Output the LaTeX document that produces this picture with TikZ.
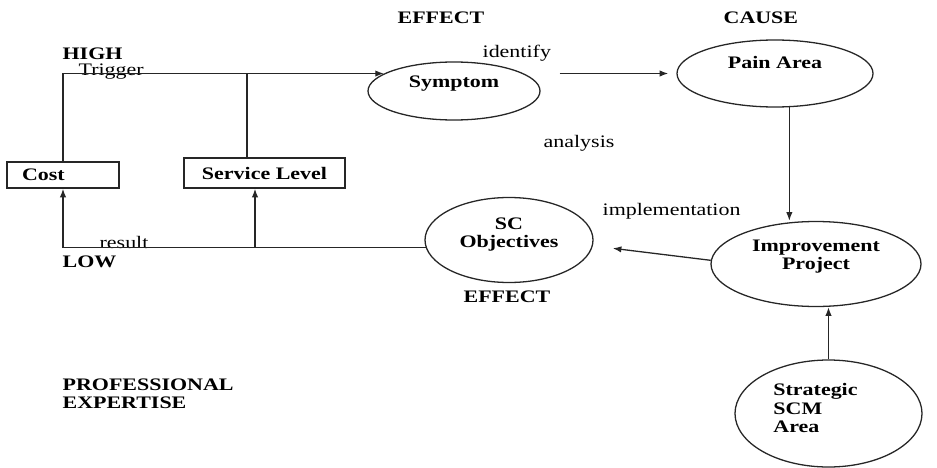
\documentclass[tikz,border=0pt]{standalone}
\usepackage{fontspec}
\setmainfont[FakeStretch=1.25]{Liberation Serif}
\usepackage{tikz}
\usetikzlibrary{arrows.meta,shapes.geometric}

\begin{document}
\begin{tikzpicture}[x=0.3mm, y=-0.3mm, line width=1.1pt, draw=black!85,
    every node/.style={font=\fontsize{15}{15.4}\selectfont},
    txt/.style={inner sep=0pt, anchor=base west},
    btxt/.style={txt, font=\fontsize{15}{15.4}\selectfont\bfseries},
    oval/.style={draw, ellipse, inner sep=0pt},
    olbl/.style={inner sep=0pt, align=center, font=\fontsize{15}{15.4}\selectfont\bfseries},
    box/.style={draw, rectangle, font=\fontsize{15}{15.4}\selectfont\bfseries},
    arr/.style={-{Latex[length=2.6mm,width=1.9mm]}}]
        \useasboundingbox (0,0) rectangle (937,467);
        % headings
        \node[btxt] (efftop) at (397,24) {EFFECT};
        \node[btxt] (cause) at (723,24) {CAUSE};
        \node[btxt] (high) at (62,59) {HIGH};
        \node[btxt] (low) at (62,267) {LOW};
        \node[btxt] (effbot) at (463,302) {EFFECT};
        \node[btxt, anchor=north west, align=left] (expertise) at (62,378) {PROFESSIONAL\\EXPERTISE};
        % edge words
        \node[txt] (trigger) at (78,75) {Trigger};
        \node[txt] (result) at (99,248) {result};
        \node[txt] (identify) at (482,58) {identify};
        \node[txt] (analysis) at (543,147) {analysis};
        \node[txt] (implementation) at (602,215) {implementation};
        % boxes and ovals
        \node[box, text width=24.6mm, inner xsep=4.5mm, align=left, minimum height=7.8mm] (cost) at (63,175) {Cost};
        \node[box, minimum width=48.3mm, minimum height=9mm] (service) at (264.5,173) {Service Level};
        \node[oval, minimum width=51.6mm, minimum height=17.4mm,
              label={[olbl, yshift=2.1mm]center:Symptom}] (symptom) at (454,91) {};
        \node[oval, minimum width=58.8mm, minimum height=20.1mm,
              label={[olbl, yshift=3.45mm]center:Pain Area}] (pain) at (775,73.5) {};
        \node[oval, minimum width=63mm, minimum height=25.5mm,
              label={[olbl, yshift=2.25mm]center:Improvement\\Project}] (improvement) at (816,264) {};
        \node[oval, minimum width=50.4mm, minimum height=25.5mm,
              label={[olbl, yshift=1.65mm]center:SC\\Objectives}] (scobj) at (509,240) {};
        \node[oval, minimum width=56.1mm, minimum height=32.1mm,
              label={[olbl, align=left, xshift=-3.9mm, yshift=1.65mm]center:Strategic\\SCM\\Area}] (strategic) at (828.5,413.5) {};
        % trigger loop
        \draw[arr] (cost.north) |- (symptom.166);
        \draw ([xshift=-5.25mm]service.north) -- ([xshift=-5.25mm]service.north |- symptom.166);
        \draw[arr, shorten <=5.7mm, shorten >=2.4mm] (symptom.east |- pain.west) -- (pain.west);
        \draw[arr] (pain.293) -- (pain.293 |- improvement.north);
        \draw[arr] (strategic.north) -- (strategic.north |- improvement.south);
        \draw[arr, shorten >=6mm] (improvement.178) -- (scobj.356);
        % result loop
        \draw[arr] (scobj.185) -| (cost.south);
        \draw[arr] ([xshift=-2.85mm]service.south |- scobj.185) -- ([xshift=-2.85mm]service.south);
\end{tikzpicture}
\end{document}
